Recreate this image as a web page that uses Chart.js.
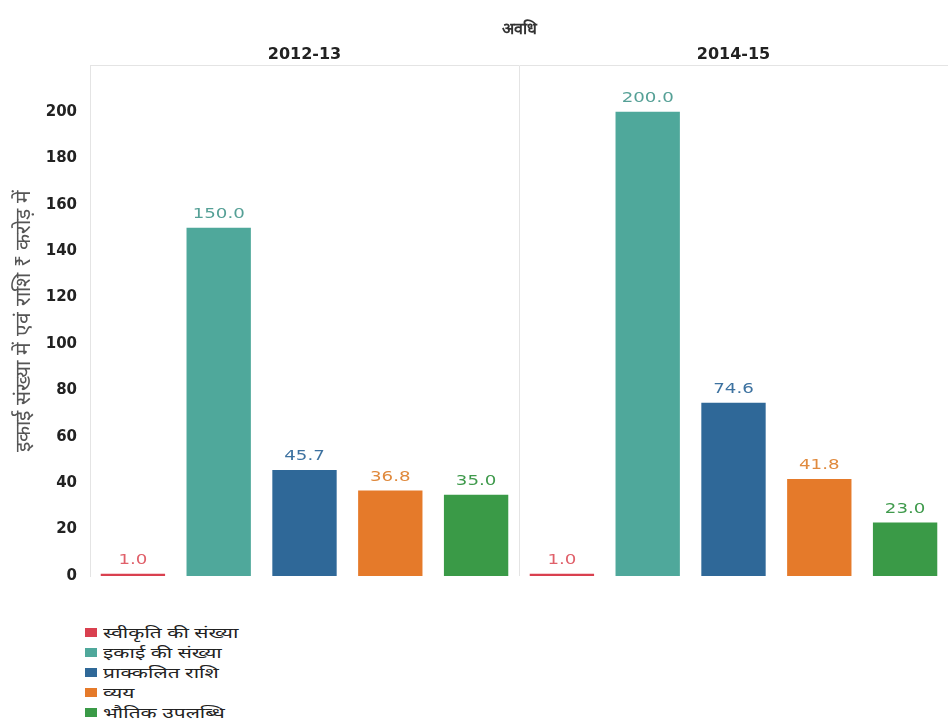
<!DOCTYPE html>
<html lang="hi">
<head>
<meta charset="utf-8">
<title>अवधि</title>
<script src="https://cdn.jsdelivr.net/npm/chart.js@4.4.1/dist/chart.umd.min.js"></script>
<style>
    html, body { margin: 0; padding: 0; background: #fff; }
    body { width: 948px; height: 724px; position: relative; overflow: hidden;
           font-family: "Noto Sans", "DejaVu Sans", sans-serif; }
    #wrap { position: absolute; left: 0; top: 0; width: 948px; height: 590px; }
    #legend { position: absolute; left: 85px; top: 622px; font-size: 14px; color: #222; }
    .legend-item { display: flex; align-items: center; height: 20px; }
    .legend-box { width: 12px; height: 9px; margin-right: 6px; flex-shrink: 0; }
    .legend-text { display: inline-block; transform: scaleX(1.5); transform-origin: left center; white-space: nowrap; }
</style>
</head>
<body>
<div id="wrap"><canvas id="chart"></canvas></div>
<div id="legend"></div>
<script>
const PERIODS  = ['2012-13', '2014-15'];
const MEASURES = ['स्वीकृति की संख्या', 'इकाई की संख्या', 'प्राक्कलित राशि', 'व्यय', 'भौतिक उपलब्धि'];

// मान: इकाई संख्या में एवं राशि ₹ करोड़ में
const approvals   = [1.0, 1.0];
const units       = [150.0, 200.0];
const estimated   = [45.7, 74.6];
const expenditure = [36.8, 41.8];
const physical    = [35.0, 23.0];

const Y_TICKS = [0, 20, 40, 60, 80, 100, 120, 140, 160, 180, 200];

const COLORS = ['#d9404f', '#4fa89b', '#2f6898', '#e57a2a', '#3a9a47'];
const LABEL_COLORS = ['#e0606a', '#55a096', '#3d72a0', '#e08a3e', '#3f9a4c'];

const series = [approvals, units, estimated, expenditure, physical];

// bar ke upar maan, thoda chauda likha hua
const valueLabels = {
    id: 'valueLabels',
    afterDatasetsDraw(chart) {
        const ctx = chart.ctx;
        chart.data.datasets.forEach((ds, i) => {
            chart.getDatasetMeta(i).data.forEach((bar, j) => {
                ctx.save();
                ctx.font = '14px "DejaVu Sans", sans-serif';
                ctx.textAlign = 'center';
                ctx.textBaseline = 'alphabetic';
                ctx.fillStyle = LABEL_COLORS[i];
                ctx.translate(bar.x, bar.y - 10);
                ctx.scale(1.3, 1);
                ctx.fillText(ds.data[j].toFixed(1), 0, 0);
                ctx.restore();
            });
        });
    }
};

new Chart(document.getElementById('chart').getContext('2d'), {
    type: 'bar',
    data: {
        labels: PERIODS,
        datasets: MEASURES.map((m, i) => ({
            label: m,
            data: series[i],
            backgroundColor: COLORS[i],
            borderWidth: 0,
            categoryPercentage: 1.0,
            barPercentage: 0.75,
        }))
    },
    options: {
        animation: false,
        responsive: true,
        maintainAspectRatio: false,
        layout: { padding: { left: 0, right: 0, top: 20, bottom: 5 } },
        plugins: {
            legend: { display: false },
            tooltip: { enabled: false },
        },
        scales: {
            x: {
                position: 'top',
                title: {
                    display: true,
                    text: 'अवधि',
                    color: '#333',
                    font: { size: 16, weight: 'bold' },
                    padding: { top: 0, bottom: 5 },
                },
                ticks: { color: '#222', font: { size: 16, weight: 'bold', family: '"DejaVu Sans", sans-serif' }, padding: 1 },
                grid: { offset: true, color: '#e4e4e4', drawTicks: false, lineWidth: 1 },
                border: { color: '#e4e4e4' },
            },
            y: {
                min: 0, max: 220,
                afterBuildTicks: axis => { axis.ticks = Y_TICKS.map(v => ({ value: v })); },
                afterFit: axis => { axis.width = 90; },
                title: {
                    display: true,
                    text: 'इकाई संख्या में एवं राशि ₹ करोड़ में',
                    color: '#555',
                    font: { size: 21 },
                    padding: { top: 12, bottom: 4 },
                },
                ticks: { color: '#222', font: { size: 15, weight: 'bold', family: '"DejaVu Sans", sans-serif' }, padding: 5 },
                grid: { display: false },
                border: { color: '#e4e4e4' },
            }
        }
    },
    plugins: [valueLabels]
});

document.getElementById('legend').innerHTML = MEASURES.map((m, i) => `
    <div class="legend-item"><span class="legend-box" style="background:${COLORS[i]}"></span><span class="legend-text">${m}</span></div>
`).join('');
</script>
</body>
</html>
